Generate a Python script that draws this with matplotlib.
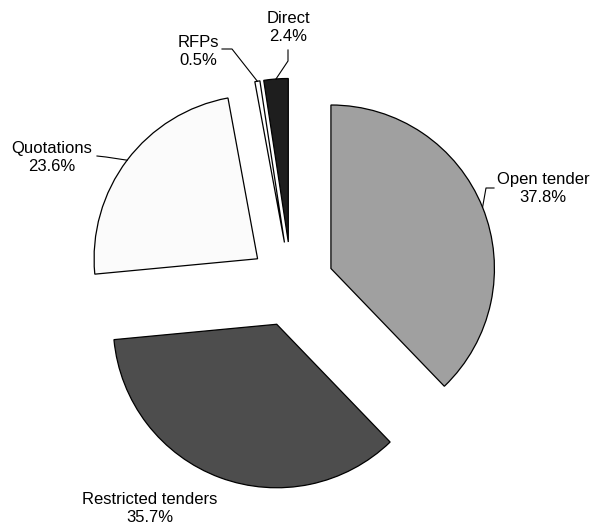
import matplotlib.pyplot as plt
import numpy as np

labels = ['Open tender', 'Restricted tenders', 'Quotations', 'RFPs', 'Direct']
shares = [37.8, 35.7, 23.6, 0.5, 2.4]
colors = ['#a0a0a0', '#4d4d4d', '#fbfbfb', '#ffffff', '#1e1e1e']

plt.rcParams['font.family'] = ['Liberation Sans', 'DejaVu Sans']

W, H = 591, 526
cx, cy, R = 291.5, 284.4, 163.5   # pie centre and radius in pixels
explode = 0.26


def px(x, y):
    # pixel position -> data units (pie radius = 1)
    return (x - cx) / R, (cy - y) / R


fig = plt.figure(figsize=(W / 100, H / 100), dpi=100)
ax = fig.add_axes([0, 0, 1, 1])

wedges, _ = ax.pie(shares, colors=colors, startangle=90, counterclock=False,
                   explode=[explode] * len(shares), radius=1,
                   wedgeprops=dict(edgecolor='black', linewidth=0.9))

ax.set_xlim(-cx / R, (W - cx) / R)
ax.set_ylim(-(H - cy) / R, cy / R)
ax.axis('off')

# label block centres and leader elbow points (pixels)
label_pos = [(543, 188), (150, 508), (52, 157), (198, 51), (288, 27)]
elbows = [[(494, 188), (486, 188)],
          None,
          [(97, 156), (106, 157)],
          [(222, 49), (232, 49)],
          [(288, 50), (288, 61)]]

for w, lab, val, pos, elb in zip(wedges, labels, shares, label_pos, elbows):
    ax.text(*px(*pos), f'{lab}\n{val}%', ha='center', va='center',
            fontsize=12, linespacing=1.25)
    if elb is None:
        continue
    mid = np.deg2rad((w.theta1 + w.theta2) / 2)
    tip = ((1 + explode) * np.cos(mid), (1 + explode) * np.sin(mid))
    pts = [px(*p) for p in elb] + [tip]
    xs, ys = zip(*pts)
    ax.plot(xs, ys, color='black', linewidth=0.8)

fig.savefig('out.png', dpi=100)
